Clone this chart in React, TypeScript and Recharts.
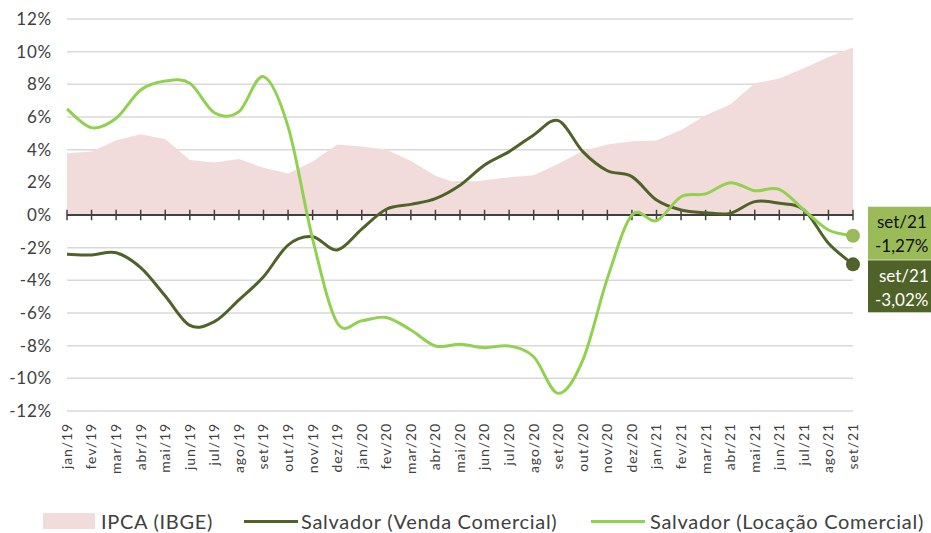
import {
  ComposedChart,
  Area,
  Line,
  XAxis,
  YAxis,
  CartesianGrid,
  ReferenceLine,
  Legend,
} from 'recharts';

const MONTHS = [
  'jan/19', 'fev/19', 'mar/19', 'abr/19', 'mai/19', 'jun/19', 'jul/19', 'ago/19', 'set/19', 'out/19', 'nov/19', 'dez/19',
  'jan/20', 'fev/20', 'mar/20', 'abr/20', 'mai/20', 'jun/20', 'jul/20', 'ago/20', 'set/20', 'out/20', 'nov/20', 'dez/20',
  'jan/21', 'fev/21', 'mar/21', 'abr/21', 'mai/21', 'jun/21', 'jul/21', 'ago/21', 'set/21',
];

// IPCA acumulado 12 meses (%)
const IPCA = [
  3.78, 3.89, 4.58, 4.94, 4.66, 3.37, 3.22, 3.43, 2.89, 2.54, 3.27, 4.31,
  4.19, 4.01, 3.30, 2.40, 1.88, 2.13, 2.31, 2.44, 3.14, 3.92, 4.31, 4.52,
  4.56, 5.20, 6.10, 6.76, 8.06, 8.35, 8.99, 9.68, 10.25,
];

const VENDA = [
  -2.41, -2.45, -2.31, -3.22, -4.96, -6.76, -6.53, -5.20, -3.78, -1.84, -1.33, -2.14,
  -0.86, 0.35, 0.65, 1.00, 1.82, 3.06, 3.88, 4.90, 5.78, 3.88, 2.71, 2.35,
  0.92, 0.31, 0.14, 0.10, 0.82, 0.72, 0.31, -1.73, -3.02,
];

const LOCACAO = [
  6.49, 5.35, 5.92, 7.65, 8.20, 8.06, 6.26, 6.33, 8.47, 5.41, -1.47, -6.60,
  -6.47, -6.27, -7.04, -8.02, -7.92, -8.12, -8.02, -8.68, -10.92, -8.88, -3.88, 0.0,
  -0.35, 1.12, 1.29, 1.98, 1.49, 1.57, 0.31, -0.92, -1.27,
];

const Y_TICKS = [-12, -10, -8, -6, -4, -2, 0, 2, 4, 6, 8, 10, 12];

const END_LABEL = 'set/21';

const data = MONTHS.map((month, i) => ({
  month,
  ipca: IPCA[i],
  venda: VENDA[i],
  locacao: LOCACAO[i],
}));

const FONT = 'Lato, "Open Sans", sans-serif';
const TEXT = '#404040';
const PINK = '#f2dcdb';
const DARK = '#4f6228';
const LIGHT = '#92d050';
const LIGHT_BOX = '#9bbb59';

const fmt = (v: number) => `${v.toFixed(2).replace('.', ',')}%`;

// excel-like smoothed line (catmull-rom through every point)
const smoothCurve = (context: any) => {
  let pts: number[][] = [];
  return {
    areaStart() {},
    areaEnd() {},
    lineStart() {
      pts = [];
    },
    point(x: number, y: number) {
      pts.push([+x, +y]);
    },
    lineEnd() {
      const n = pts.length;
      if (!n) return;
      context.moveTo(pts[0][0], pts[0][1]);
      for (let i = 0; i < n - 1; i++) {
        const p0 = pts[Math.max(i - 1, 0)];
        const p1 = pts[i];
        const p2 = pts[i + 1];
        const p3 = pts[Math.min(i + 2, n - 1)];
        context.bezierCurveTo(
          p1[0] + (p2[0] - p0[0]) / 6,
          p1[1] + (p2[1] - p0[1]) / 6,
          p2[0] - (p3[0] - p1[0]) / 6,
          p2[1] - (p3[1] - p1[1]) / 6,
          p2[0],
          p2[1],
        );
      }
    },
  };
};

const MonthTick = (props: any) => {
  const { x, y, payload } = props;
  return (
    <text
      x={x}
      y={y}
      dy="0.35em"
      transform={`rotate(-90, ${x}, ${y})`}
      textAnchor="end"
      fill={TEXT}
      fontSize={14}
      letterSpacing={0.9}
      fontFamily={FONT}
    >
      {payload.value}
    </text>
  );
};

const lastIndex = MONTHS.length - 1;

const VendaDot = (props: any) => {
  const { cx, cy, index } = props;
  if (index !== lastIndex) return <g key={`v-${index}`} />;
  return (
    <g key={`v-${index}`}>
      <rect x={cx + 15} y={cy - 4} width={80} height={52} fill={DARK} />
      <text x={cx + 26} y={cy + 12} dy="0.35em" fill="#fff" fontSize={17} fontFamily={FONT}>{END_LABEL}</text>
      <text x={cx + 22} y={cy + 36} dy="0.35em" fill="#fff" fontSize={17} fontFamily={FONT}>{fmt(VENDA[lastIndex])}</text>
      <circle cx={cx} cy={cy} r={7} fill={DARK} />
    </g>
  );
};

const LocacaoDot = (props: any) => {
  const { cx, cy, index } = props;
  if (index !== lastIndex) return <g key={`l-${index}`} />;
  return (
    <g key={`l-${index}`}>
      <rect x={cx + 15} y={cy - 29} width={80} height={53} fill={LIGHT_BOX} />
      <text x={cx + 24} y={cy - 14} dy="0.35em" fill="#111" fontSize={17} fontFamily={FONT}>{END_LABEL}</text>
      <text x={cx + 22} y={cy + 10} dy="0.35em" fill="#111" fontSize={17} fontFamily={FONT}>{fmt(LOCACAO[lastIndex])}</text>
      <circle cx={cx} cy={cy} r={7} fill={LIGHT_BOX} />
    </g>
  );
};

const LegendContent = () => (
  <div style={{ position: 'relative', height: 24, fontFamily: FONT, fontSize: 20, letterSpacing: 0.7, color: TEXT, lineHeight: '24px' }}>
    <span style={{ position: 'absolute', left: 43, top: 4, width: 52, height: 16, background: PINK }} />
    <span style={{ position: 'absolute', left: 101, top: 0, whiteSpace: 'nowrap' }}>IPCA (IBGE)</span>
    <span style={{ position: 'absolute', left: 244, top: 11, width: 54, height: 3, background: DARK }} />
    <span style={{ position: 'absolute', left: 301, top: 0, whiteSpace: 'nowrap' }}>Salvador (Venda Comercial)</span>
    <span style={{ position: 'absolute', left: 591, top: 11, width: 54, height: 3, background: LIGHT }} />
    <span style={{ position: 'absolute', left: 650, top: 0, whiteSpace: 'nowrap' }}>Salvador (Locação Comercial)</span>
  </div>
);

export default function App() {
  return (
    <div style={{ position: 'absolute', left: 0, top: 0, width: 931, height: 533, background: '#fff', overflow: 'hidden' }}>
      <ComposedChart width={931} height={533} data={data} margin={{ top: 19, right: 78, bottom: 0, left: 0 }}>
        <CartesianGrid vertical={false} stroke="#d9d9d9" strokeWidth={1.5} />
        <XAxis
          dataKey="month"
          scale="point"
          interval={0}
          axisLine={false}
          tickLine={false}
          tickSize={0}
          tickMargin={12}
          height={98}
          tick={<MonthTick />}
        />
        <YAxis
          domain={[-12, 12]}
          ticks={Y_TICKS}
          width={67}
          axisLine={false}
          tickLine={false}
          tickSize={0}
          tickMargin={15}
          tickFormatter={(v: number) => `${v}%`}
          tick={{ fill: TEXT, fontSize: 17, fontFamily: FONT, letterSpacing: 0.8 }}
        />
        <Area
          dataKey="ipca"
          name="IPCA (IBGE)"
          type="linear"
          fill={PINK}
          fillOpacity={1}
          stroke="none"
          isAnimationActive={false}
        />
        <ReferenceLine y={0} stroke={TEXT} strokeWidth={2} />
        {MONTHS.map((m) => (
          <ReferenceLine
            key={m}
            segment={[{ x: m, y: -0.32 }, { x: m, y: 0.32 }]}
            stroke={TEXT}
            strokeWidth={1.5}
          />
        ))}
        <Line
          dataKey="venda"
          name="Salvador (Venda Comercial)"
          type={smoothCurve as any}
          stroke={DARK}
          strokeWidth={3}
          dot={VendaDot}
          activeDot={false}
          isAnimationActive={false}
        />
        <Line
          dataKey="locacao"
          name="Salvador (Locação Comercial)"
          type={smoothCurve as any}
          stroke={LIGHT}
          strokeWidth={3}
          dot={LocacaoDot}
          activeDot={false}
          isAnimationActive={false}
        />
        <Legend
          verticalAlign="bottom"
          content={<LegendContent />}
          wrapperStyle={{ left: 0, bottom: 0, width: 931, height: 24 }}
        />
      </ComposedChart>
    </div>
  );
}
